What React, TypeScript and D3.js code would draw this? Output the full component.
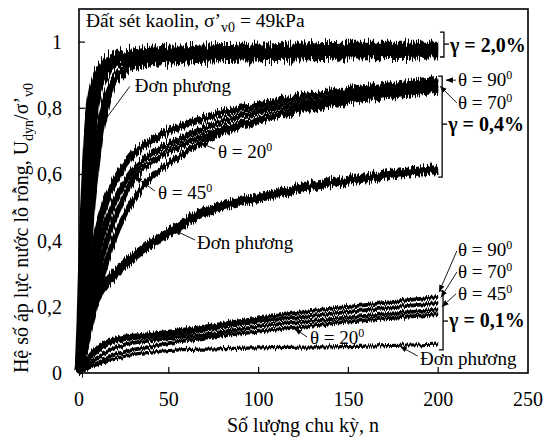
import React from "react";
import * as d3 from "d3";

// ---- axes ----
const X_TICKS = [0, 50, 100, 150, 200, 250];
const Y_TICKS = [0, 0.2, 0.4, 0.6, 0.8, 1];
const Y_TICK_LABELS = ["0", "0,2", "0,4", "0,6", "0,8", "1"];

// ---- series: [n, Udyn/σ'v0] ----
// γ = 2,0 %
const g20_a: [number, number][] = [[0,0],[1,0.15],[2,0.35],[3,0.5],[4,0.62],[5,0.72],[6,0.79],[8,0.86],[10,0.9],[14,0.935],[20,0.958],[30,0.968],[60,0.978],[100,0.983],[150,0.988],[200,0.988]];
const g20_b: [number, number][] = [[0,0],[2,0.2],[3,0.35],[5,0.55],[7,0.7],[8,0.77],[10,0.84],[13,0.89],[17,0.92],[25,0.945],[40,0.958],[80,0.968],[140,0.975],[200,0.978]];
const g20_dp: [number, number][] = [[0,0],[3,0.2],[5,0.38],[7,0.52],[9,0.62],[12,0.74],[15,0.82],[18,0.87],[23,0.905],[30,0.93],[50,0.945],[100,0.955],[150,0.96],[200,0.963]];
// γ = 0,4 %
const g04_90: [number, number][] = [[0,0],[2,0.1],[5,0.25],[10,0.42],[15,0.52],[20,0.58],[30,0.66],[40,0.7],[50,0.73],[70,0.77],[100,0.81],[130,0.84],[160,0.86],[200,0.885]];
const g04_70: [number, number][] = [[0,0],[3,0.1],[6,0.22],[10,0.35],[15,0.45],[20,0.52],[30,0.61],[40,0.66],[50,0.69],[70,0.74],[100,0.79],[130,0.82],[160,0.845],[200,0.867]];
const g04_45: [number, number][] = [[0,0],[3,0.08],[7,0.2],[12,0.33],[18,0.44],[25,0.53],[31,0.59],[40,0.635],[50,0.668],[70,0.718],[100,0.768],[130,0.806],[160,0.835],[200,0.858]];
const g04_20: [number, number][] = [[0,0],[4,0.08],[8,0.18],[14,0.31],[20,0.41],[30,0.52],[40,0.59],[50,0.632],[67,0.692],[100,0.762],[130,0.8],[160,0.828],[200,0.852]];
const g04_dp: [number, number][] = [[0,0],[1,0.05],[3,0.12],[6,0.18],[10,0.23],[13,0.255],[20,0.3],[30,0.35],[40,0.39],[52,0.43],[67,0.48],[80,0.505],[100,0.53],[120,0.555],[140,0.575],[160,0.59],[180,0.605],[200,0.615]];
// γ = 0,1 %
const g01_90: [number, number][] = [[0,0],[3,0.03],[7,0.06],[12,0.085],[18,0.1],[25,0.11],[35,0.115],[50,0.125],[75,0.145],[100,0.165],[125,0.185],[150,0.2],[175,0.215],[200,0.23]];
const g01_70: [number, number][] = [[0,0],[3,0.025],[8,0.055],[14,0.08],[20,0.095],[30,0.105],[50,0.115],[75,0.135],[100,0.155],[125,0.17],[150,0.185],[175,0.198],[200,0.212]];
const g01_45: [number, number][] = [[0,0],[4,0.02],[10,0.045],[18,0.07],[25,0.085],[35,0.095],[50,0.105],[75,0.12],[100,0.14],[125,0.155],[150,0.168],[175,0.18],[200,0.192]];
const g01_20: [number, number][] = [[0,0],[5,0.015],[12,0.035],[20,0.055],[30,0.07],[40,0.08],[50,0.09],[75,0.11],[100,0.125],[125,0.14],[150,0.155],[175,0.167],[200,0.178]];
const g01_dp: [number, number][] = [[0,0],[5,0.015],[10,0.025],[16,0.035],[25,0.05],[35,0.06],[50,0.068],[75,0.073],[100,0.076],[150,0.08],[200,0.087]];

const W = 545, H = 439;
const PL = 79, PR = 528, PT = 9, PB = 373;
const TF = { fontFamily: '"Liberation Serif"' };

export default function App() {
  const x = d3.scaleLinear().domain([0, 250]).range([PL, PR]);
  const y = d3.scaleLinear().domain([0, 1.1]).range([PB, PT]);
  const line = d3.line<[number, number]>().x(d => x(d[0])).y(d => y(d[1])).curve(d3.curveMonotoneX);

  const groups = [
    { series: [g20_a, g20_b, g20_dp], widths: [8.5, 8.5, 8.5], filter: "url(#nz20)" },
    { series: [g04_90, g04_70, g04_45, g04_20, g04_dp], widths: [7, 6, 5.5, 5.5, 9], filter: "url(#nz04)" },
    { series: [g01_90, g01_70, g01_45, g01_20, g01_dp], widths: [3.8, 3.8, 3.8, 3.8, 3.2], filter: "url(#nz01)" },
  ];

  const theta = (v: string) => (
    <>θ = {v}<tspan fontSize={12} dy={-7}>0</tspan></>
  );

  const notes: { t: any; tx: number; ty: number; a: [number, number]; b: [number, number] }[] = [
    { t: "Đơn phương", tx: 31, ty: 0.849, a: [28.3, 0.866], b: [12.5, 0.75] },
    { t: theta("20"), tx: 77.4, ty: 0.65, a: [75.7, 0.677], b: [67.4, 0.695] },
    { t: theta("45"), tx: 44, ty: 0.526, a: [42.3, 0.55], b: [31.2, 0.592] },
    { t: "Đơn phương", tx: 65.7, ty: 0.375, a: [64.6, 0.402], b: [52.9, 0.432] },
    { t: theta("20"), tx: 128.6, ty: 0.088, a: [127, 0.109], b: [120, 0.134] },
    { t: "Đơn phương", tx: 189.9, ty: 0.024, a: [188.6, 0.051], b: [178.7, 0.081] },
    { t: theta("90"), tx: 211, ty: 0.866, a: [209.9, 0.885], b: [204.3, 0.885] },
    { t: theta("70"), tx: 211, ty: 0.797, a: [210.4, 0.816], b: [201, 0.867] },
    { t: theta("90"), tx: 211, ty: 0.354, a: [210.4, 0.369], b: [200.5, 0.245] },
    { t: theta("70"), tx: 211, ty: 0.287, a: [210.4, 0.305], b: [201.5, 0.228] },
    { t: theta("45"), tx: 211, ty: 0.22, a: [209.9, 0.239], b: [202, 0.2] },
  ];

  const brackets = [
    { label: "γ = 2,0%", n: 203.2, top: 1.03, bot: 0.955, mid: 0.994, ly: 0.97 },
    { label: "γ = 0,4%", n: 202.2, top: 0.897, bot: 0.592, mid: 0.752, ly: 0.73 },
    { label: "γ = 0,1%", n: 202.7, top: 0.248, bot: 0.07, mid: 0.157, ly: 0.139 },
  ];

  const noiseFilter = (id: string, scale: number) => (
    <filter id={id} filterUnits="userSpaceOnUse" x={0} y={0} width={W} height={H} colorInterpolationFilters="sRGB">
      <feTurbulence type="fractalNoise" baseFrequency="0.95 0.004" numOctaves={2} seed={5} result="t" />
      <feColorMatrix in="t" type="matrix" values="0 0 0 0 0.5  0 1 0 0 0  0 0 0 0 0  0 0 0 0 1" result="m" />
      <feDisplacementMap in="SourceGraphic" in2="m" scale={scale} xChannelSelector="R" yChannelSelector="G" />
    </filter>
  );

  return (
    <div style={{ position: "fixed", left: 0, top: 0, width: W, height: H, background: "#fff" }}>
      <svg width={W} height={H} style={{ display: "block" }}>
        <defs>
          {noiseFilter("nz20", 18)}
          {noiseFilter("nz04", 12)}
          {noiseFilter("nz01", 6)}
          <marker id="arr" viewBox="0 0 10 10" refX={10} refY={5} markerWidth={7} markerHeight={7} markerUnits="userSpaceOnUse" orient="auto">
            <path d="M0,1 L10,5 L0,9 Z" fill="#000" />
          </marker>
        </defs>
        <rect x={0} y={0} width={W} height={H} fill="#fff" />

        {groups.map((g, gi) => (
          <g key={gi} filter={g.filter}>
            {g.series.map((s, si) => (
              <path key={si} d={line(s) || ""} fill="none" stroke="#000" strokeWidth={g.widths[si]} strokeLinejoin="round" />
            ))}
          </g>
        ))}

        <rect x={PL} y={PT} width={PR - PL} height={PB - PT} fill="none" stroke="#000" strokeWidth={1.6} />

        {X_TICKS.map(t => (
          <g key={"x" + t}>
            {t > 0 && t < 250 && <line x1={x(t)} x2={x(t)} y1={PB} y2={PB - 6} stroke="#000" strokeWidth={1.2} />}
            <text x={x(t)} y={406} textAnchor="middle" fontSize={20} style={TF}>{t}</text>
          </g>
        ))}
        {Y_TICKS.map((t, i) => (
          <g key={"y" + t}>
            {t > 0 && <line x1={PL} x2={PL + 6} y1={y(t)} y2={y(t)} stroke="#000" strokeWidth={1.2} />}
            <text x={62} y={y(t)} dy="0.35em" textAnchor="end" fontSize={20} style={TF}>{Y_TICK_LABELS[i]}</text>
          </g>
        ))}

        <text x={303} y={432} textAnchor="middle" fontSize={20} style={TF}>Số lượng chu kỳ, n</text>
        <text transform="translate(28,228) rotate(-90)" textAnchor="middle" fontSize={20} style={TF}>
          Hệ số áp lực nước lỗ rỗng, U<tspan fontSize={14} dy={5}>dyn</tspan><tspan dy={-5}>/σ’</tspan><tspan fontSize={14} dy={5}>v0</tspan>
        </text>

        <text x={86} y={27} fontSize={19.5} style={TF}>
          Đất sét kaolin, σ’<tspan fontSize={14} dy={5}>v0</tspan><tspan dy={-5}> = 49kPa</tspan>
        </text>

        {notes.map((a, i) => (
          <g key={"n" + i}>
            <line x1={x(a.a[0])} y1={y(a.a[1])} x2={x(a.b[0])} y2={y(a.b[1])} stroke="#000" strokeWidth={0.9} markerEnd="url(#arr)" />
            <text x={x(a.tx)} y={y(a.ty)} fontSize={19} style={TF}>{a.t}</text>
          </g>
        ))}

        {brackets.map((b, i) => (
          <g key={"b" + i}>
            <path d={`M${x(b.n) - 4},${y(b.top)} H${x(b.n)} V${y(b.bot)} H${x(b.n) - 4}`} stroke="#000" strokeWidth={1.3} fill="none" />
            <line x1={x(b.n)} x2={x(b.n) + 5} y1={y(b.mid)} y2={y(b.mid)} stroke="#000" strokeWidth={1.3} />
            <text x={x(b.n) + 6} y={y(b.ly)} fontSize={20} fontWeight="bold" fill="#000" style={TF}>{b.label}</text>
          </g>
        ))}
      </svg>
    </div>
  );
}
